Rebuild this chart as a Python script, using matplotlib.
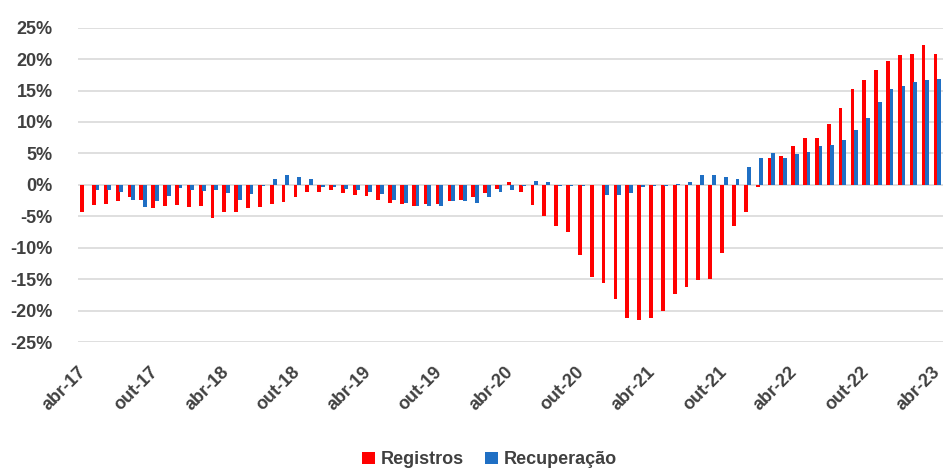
import matplotlib.pyplot as plt
import numpy as np
from matplotlib.ticker import FuncFormatter


# Variação mensal (%), abr-17 a abr-23
meses = [
    "abr-17", "mai-17", "jun-17", "jul-17", "ago-17", "set-17",
    "out-17", "nov-17", "dez-17", "jan-18", "fev-18", "mar-18",
    "abr-18", "mai-18", "jun-18", "jul-18", "ago-18", "set-18",
    "out-18", "nov-18", "dez-18", "jan-19", "fev-19", "mar-19",
    "abr-19", "mai-19", "jun-19", "jul-19", "ago-19", "set-19",
    "out-19", "nov-19", "dez-19", "jan-20", "fev-20", "mar-20",
    "abr-20", "mai-20", "jun-20", "jul-20", "ago-20", "set-20",
    "out-20", "nov-20", "dez-20", "jan-21", "fev-21", "mar-21",
    "abr-21", "mai-21", "jun-21", "jul-21", "ago-21", "set-21",
    "out-21", "nov-21", "dez-21", "jan-22", "fev-22", "mar-22",
    "abr-22", "mai-22", "jun-22", "jul-22", "ago-22", "set-22",
    "out-22", "nov-22", "dez-22", "jan-23", "fev-23", "mar-23",
    "abr-23",
]

registros = [
    -4.3, -3.2, -3.0, -2.6, -2.0, -2.4, -3.7, -3.3, -3.2, -3.5, -3.3, -5.2,
    -4.4, -4.4, -3.7, -3.6, -3.1, -2.7, -2.0, -1.1, -1.1, -0.9, -1.3, -1.6,
    -1.8, -2.4, -2.9, -3.0, -3.3, -3.0, -3.0, -2.5, -2.4, -2.0, -1.3, -0.6,
    0.5, -1.1, -3.2, -4.9, -6.5, -7.5, -11.1, -14.7, -15.6, -18.2, -21.2, -21.5,
    -21.2, -20.1, -17.4, -16.2, -15.2, -15.0, -10.8, -6.5, -4.3, -0.4, 4.3, 4.6,
    6.2, 7.5, 7.5, 9.6, 12.3, 15.3, 16.6, 18.2, 19.7, 20.6, 20.8, 22.2,
    20.8,
]

recuperacao = [
    -0.1, -0.8, -0.8, -1.2, -2.4, -3.5, -2.5, -1.8, -0.5, -0.8, -1.0, -0.8,
    -1.3, -2.4, -1.4, -0.2, 0.9, 1.6, 1.3, 0.9, -0.3, -0.4, -0.6, -0.9,
    -1.1, -1.4, -2.4, -2.9, -3.3, -3.3, -3.4, -2.6, -2.6, -2.9, -1.9, -1.1,
    -0.9, -0.2, 0.6, 0.4, -0.2, -0.2, -0.2, -0.1, -1.6, -1.6, -1.3, -0.3,
    -0.2, -0.2, 0.1, 0.4, 1.6, 1.6, 1.2, 0.9, 2.9, 4.2, 5.0, 4.3,
    4.9, 5.3, 6.1, 6.4, 7.2, 8.7, 10.7, 13.1, 15.3, 15.7, 16.4, 16.6,
    16.8,
]

VERMELHO = "#FF0000"
AZUL = "#1F6FC4"
TEXTO = "#404040"

plt.rcParams["font.family"] = ["Liberation Sans", "DejaVu Sans"]
plt.rcParams["font.weight"] = "bold"

fig = plt.figure(figsize=(9.45, 4.72), dpi=100)
ax = fig.add_axes([0.0825, 0.2754, 0.9155, 0.666])

x = np.arange(len(meses))
largura = 0.32
ax.bar(x - 0.15, registros, largura, color=VERMELHO, label="Registros", zorder=3)
ax.bar(x + 0.15, recuperacao, largura, color=AZUL, label="Recuperação", zorder=3)

ax.set_xlim(-0.5, len(meses) - 0.5)
ax.set_ylim(-25, 25)
ax.set_yticks(np.arange(-25, 26, 5))
ax.yaxis.set_major_formatter(FuncFormatter(lambda v, _: f"{v:.0f}%"))
ax.grid(axis="y", color="#D9D9D9", linewidth=1.2, zorder=0)

# rótulos semestrais (abr e out)
posicoes = x[::6]
ax.set_xticks(posicoes)
ax.set_xticklabels([meses[i] for i in posicoes], rotation=45, ha="right", va="center",
                   rotation_mode="anchor", fontsize=13, fontweight="bold", color=TEXTO)
ax.tick_params(axis="x", length=0, pad=20)
ax.tick_params(axis="y", length=0, pad=18, labelsize=13, labelcolor=TEXTO)
for rotulo in ax.get_yticklabels():
    rotulo.set_fontweight("bold")

for lado in ax.spines.values():
    lado.set_visible(False)

fig.legend(loc="center", bbox_to_anchor=(0.518, 0.026), ncol=2, frameon=False,
           fontsize=13, handlelength=0.7, handleheight=0.7, handletextpad=0.3,
           columnspacing=1.2, labelcolor=TEXTO)

fig.savefig("out.png", dpi=100)
